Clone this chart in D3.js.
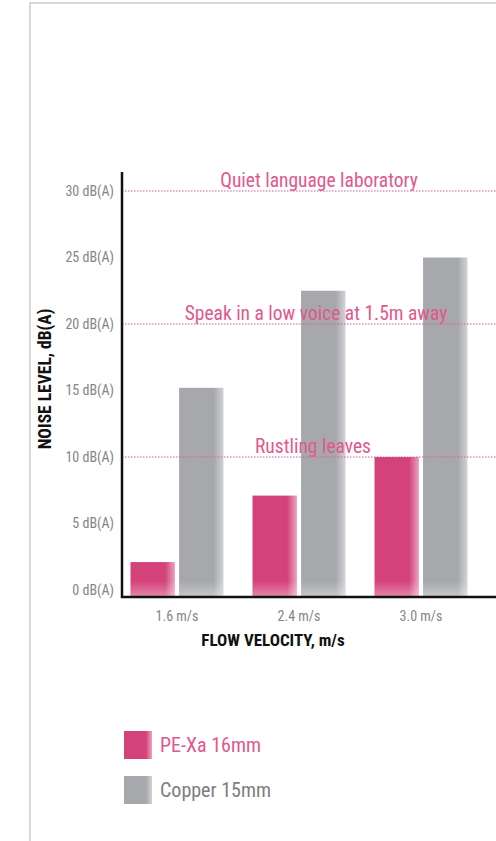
<html>
<head>
    <meta charset="utf-8">
    <title>Noise level</title>
    <script src="https://cdn.jsdelivr.net/npm/d3@7/dist/d3.min.js"></script>
</head>
<style>
    html, body { margin: 0; padding: 0; background: #fff; }
    svg { display: block; }
</style>
<body>
<svg width="496" height="841" id="mainsvg"></svg>
<script>
    // data
    const categories = ["1.6 m/s", "2.4 m/s", "3.0 m/s"];
    const series = ["PE-Xa 16mm", "Copper 15mm"];
    const peValues = [2.1, 7.1, 10];
    const copperValues = [15.2, 22.5, 25];
    const yTicks = [0, 5, 10, 15, 20, 25, 30];
    const refLevels = [30, 20, 10];
    const refLabels = ["Quiet language laboratory", "Speak in a low voice at 1.5m away", "Rustling leaves"];

    const colors = { "PE-Xa 16mm": ["#d4427a", "#eba3bf"], "Copper 15mm": ["#a7a8ac", "#d2d3d5"] };
    const textColors = { "PE-Xa 16mm": "#e0588d", "Copper 15mm": "#7d7d80" };

    const svg = d3.select('#mainsvg');
    const font = '"Liberation Sans Narrow", "Arial Narrow", "Roboto Condensed", "Liberation Sans", sans-serif';

    // frame
    svg.append('line').attr('x1', 30).attr('x2', 30).attr('y1', 2).attr('y2', 841)
        .attr('stroke', '#d9d9d9').attr('stroke-width', 2);
    svg.append('line').attr('x1', 29).attr('x2', 496).attr('y1', 3).attr('y2', 3)
        .attr('stroke', '#d9d9d9').attr('stroke-width', 2);

    const axisX = 122, axisY = 597;
    const yScale = d3.scaleLinear().domain([0, 30]).range([590, 191]);
    const xScale = d3.scaleBand().domain(categories).range([116, 482])
        .paddingInner(0.238).paddingOuter(0.119);
    const subScale = d3.scaleBand().domain(series).range([0, xScale.bandwidth()]).paddingInner(0.085);

    // gradients
    const defs = svg.append('defs');
    series.forEach((s, i) => {
        const g = defs.append('linearGradient').attr('id', 'grad' + i)
            .attr('x1', 0).attr('x2', 1).attr('y1', 0).attr('y2', 0);
        g.append('stop').attr('offset', '0%').attr('stop-color', colors[s][0]);
        g.append('stop').attr('offset', '78%').attr('stop-color', colors[s][0]);
        g.append('stop').attr('offset', '100%').attr('stop-color', colors[s][1]);
        const gb = defs.append('linearGradient').attr('id', 'gradb' + i)
            .attr('x1', 0).attr('x2', 0).attr('y1', 0).attr('y2', 1);
        gb.append('stop').attr('offset', '0%').attr('stop-color', '#fff').attr('stop-opacity', 0);
        gb.append('stop').attr('offset', '100%').attr('stop-color', '#fff').attr('stop-opacity', 0.35);
    });

    // bars
    const data = [];
    categories.forEach((c, i) => {
        data.push({ cat: c, s: series[0], v: peValues[i], k: 0 });
        data.push({ cat: c, s: series[1], v: copperValues[i], k: 1 });
    });
    const bars = svg.append('g');
    bars.selectAll('rect.bar').data(data).join('rect').attr('class', 'bar')
        .attr('x', d => xScale(d.cat) + subScale(d.s))
        .attr('y', d => yScale(d.v))
        .attr('width', subScale.bandwidth())
        .attr('height', d => axisY - 1 - yScale(d.v))
        .attr('fill', d => 'url(#grad' + d.k + ')');
    bars.selectAll('rect.shine').data(data).join('rect').attr('class', 'shine')
        .attr('x', d => xScale(d.cat) + subScale(d.s))
        .attr('y', axisY - 16)
        .attr('width', subScale.bandwidth())
        .attr('height', 15)
        .attr('fill', d => 'url(#gradb' + d.k + ')');

    // reference lines
    const refs = svg.append('g');
    refLevels.forEach((lv, i) => {
        refs.append('line').attr('x1', axisX).attr('x2', 496)
            .attr('y1', yScale(lv)).attr('y2', yScale(lv))
            .attr('stroke', '#e0588d').attr('stroke-width', 1).attr('stroke-dasharray', '1.5,1.5');
        refs.append('text').text(refLabels[i])
            .attr('x', [319, 316, 313][i]).attr('y', yScale(lv) - 4)
            .attr('text-anchor', 'middle').attr('fill', '#e0588d')
            .attr('font-family', font).attr('font-size', 19.5);
    });

    // y axis
    const yAxis = d3.axisLeft(yScale).tickValues(yTicks).tickSize(0).tickPadding(8)
        .tickFormat(d => d + ' dB(A)');
    const yg = svg.append('g').attr('transform', `translate(${axisX},0)`).call(yAxis);
    yg.select('.domain').remove();
    yg.selectAll('text').attr('fill', '#858585').attr('font-family', font).attr('font-size', 14);
    svg.append('line').attr('x1', axisX).attr('x2', axisX).attr('y1', 172).attr('y2', axisY + 1)
        .attr('stroke', '#111').attr('stroke-width', 2.5);

    // x axis
    const xAxis = d3.axisBottom(xScale).tickSize(0).tickPadding(14);
    const xg = svg.append('g').attr('transform', `translate(0,${axisY})`).call(xAxis);
    xg.select('.domain').remove();
    xg.selectAll('text').attr('fill', '#858585').attr('font-family', font).attr('font-size', 14);
    svg.append('line').attr('x1', axisX - 1).attr('x2', 496).attr('y1', axisY).attr('y2', axisY)
        .attr('stroke', '#111').attr('stroke-width', 2.5);

    // axis titles
    svg.append('text').text('FLOW VELOCITY, m/s')
        .attr('x', 273).attr('y', 646).attr('text-anchor', 'middle')
        .attr('font-family', font).attr('font-weight', 'bold').attr('font-size', 17).attr('fill', '#111');
    svg.append('text').text('NOISE LEVEL, dB(A)')
        .attr('transform', 'translate(51,379) rotate(-90)').attr('text-anchor', 'middle')
        .attr('font-family', font).attr('font-weight', 'bold').attr('font-size', 17.5).attr('fill', '#111');

    // legend
    const legend = svg.append('g');
    series.forEach((s, i) => {
        const y0 = 731 + i * 45;
        legend.append('rect').attr('x', 124).attr('y', y0).attr('width', 28).attr('height', 28)
            .attr('fill', 'url(#grad' + i + ')');
        legend.append('text').text(s).attr('x', 160).attr('y', y0 + 21)
            .attr('font-family', font).attr('font-size', 20).attr('fill', textColors[s]);
    });
</script>
</body>
</html>
